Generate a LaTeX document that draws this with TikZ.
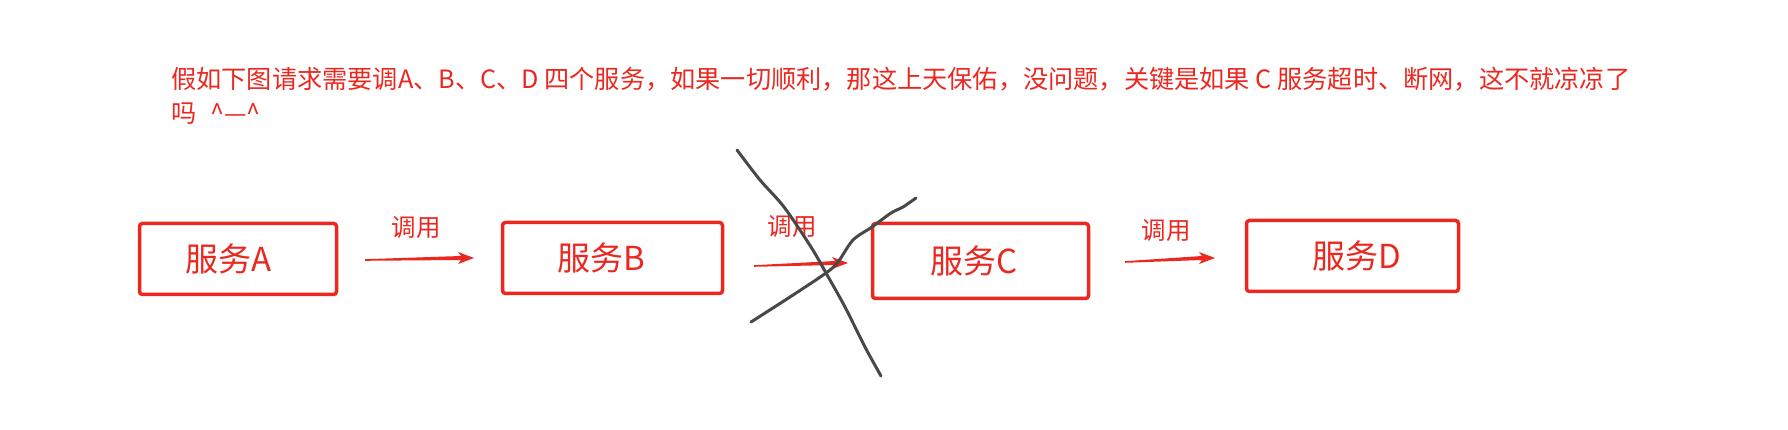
\documentclass[tikz,border=0pt]{standalone}
\usepackage{fontspec}
\setmainfont{Noto Sans CJK SC}
\usetikzlibrary{calc}
\definecolor{sred}{RGB}{234,40,32}
\definecolor{pen}{RGB}{72,72,72}
\tikzset{
  svc/.style={draw=sred, line width=3.5pt, rounded corners=3pt, text=sred,
    font=\fontsize{33}{33}\selectfont, inner sep=0pt},
  lbl/.style={text=sred, font=\fontsize{24.5}{24.5}\selectfont, inner sep=0pt},
  ttl/.style={text=sred, font=\fontsize{25.2}{25.2}\selectfont, inner sep=0pt, anchor=west},
  penstroke/.style={draw=pen, line width=3pt, line cap=round, line join=round}
}
\newcommand\tarr[2]{\fill[sred] ($(#1)+(0,-0.8)$) -- ($(#2)+(-13,-2)$) -- ($(#2)+(-16,-6)$) -- (#2) -- ($(#2)+(-16,6)$) -- ($(#2)+(-13,2)$) -- ($(#1)+(0,0.8)$) -- cycle;}
\begin{document}
\begin{tikzpicture}[x=1pt,y=-1pt]
\useasboundingbox (0,0) rectangle (1788,430);
\node[ttl] (t1) at (171,79) {假如下图请求需要调A、B、C、D 四个服务，如果一切顺利，那这上天保佑，没问题，关键是如果 C 服务超时、断网，这不就凉凉了};
\node[ttl] (t2) at (171,114) {吗\hspace{14pt}\textasciicircum—\textasciicircum};

\node[svc, minimum width=197, minimum height=71] (A) at (238,259) {\hspace*{-18pt}服务A};
\node[svc, minimum width=220, minimum height=71] (B) at (612.5,258) {\hspace*{-22pt}服务B};
\node[svc, minimum width=216, minimum height=75] (C) at (980.5,261) {\hspace*{-12pt}服务C};
\node[svc, minimum width=212, minimum height=71] (D) at (1352.5,256) {服务D\hspace*{-8pt}};

\coordinate (a1s) at (365,260); \coordinate (a1e) at (474,258);
\coordinate (a2s) at (754,266); \coordinate (a2e) at (848,263);
\coordinate (a3s) at (1125,262); \coordinate (a3e) at (1215,258);
\tarr{a1s}{a1e}
\tarr{a2s}{a2e}
\tarr{a3s}{a3e}
\node[lbl] (l1) at (416,228) {调用};
\node[lbl] (l2) at (792,227) {调用};
\node[lbl] (l3) at (1166,231) {调用};

\draw[penstroke] plot[smooth] coordinates {(737,150) (760,180) (784,207) (811,247) (826,273) (845,307) (865,347) (881,376)};
\draw[penstroke] plot[smooth] coordinates {(751,322) (790,297) (826,273) (838,262) (853,240) (872,227) (891,213) (903,207) (916,198)};
\end{tikzpicture}
\end{document}
